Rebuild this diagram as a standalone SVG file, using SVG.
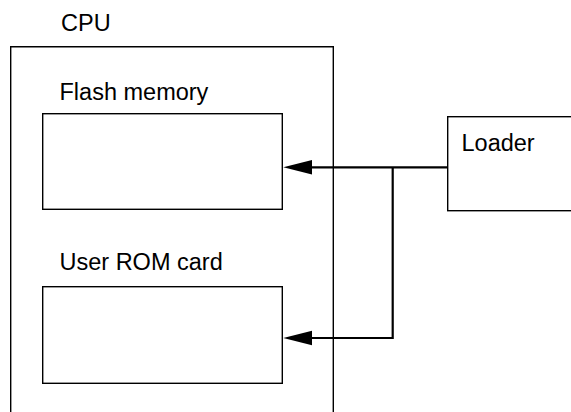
<svg xmlns="http://www.w3.org/2000/svg" width="571" height="412" viewBox="0 0 571 412">
<defs>
<style>
.box{fill:#fff;stroke:#000;stroke-width:1.4}
.lbl{font-family:"Liberation Sans",Arial,sans-serif;font-size:23.5px;fill:#000}
.conn{fill:none;stroke:#000;stroke-width:2.2}
.head{fill:#000}
</style>
</defs>
<rect width="571" height="412" fill="#fff"/>
<g id="cpu">
<path class="box" d="M10.7,413 V46.7 H333.3 V413"/>
<text class="lbl" x="61" y="31">CPU</text>
</g>
<g id="flash">
<rect class="box" x="42.7" y="113.7" width="239.6" height="95.6"/>
<text class="lbl" x="59.5" y="99.5">Flash memory</text>
</g>
<g id="userrom">
<rect class="box" x="42.7" y="286.7" width="239.6" height="96.6"/>
<text class="lbl" x="59.5" y="270">User ROM card</text>
</g>
<g id="loader">
<rect class="box" x="447.7" y="116.7" width="130" height="94"/>
<text class="lbl" x="461.5" y="151">Loader</text>
</g>
<g id="connectors">
<path class="conn" d="M447.7,167.3 H311"/>
<path class="head" d="M312,160 L283.3,167.3 L312,174.6 Z"/>
<path class="conn" d="M392.7,167.3 V338 H311"/>
<path class="head" d="M312,330.7 L283.3,338 L312,345.3 Z"/>
</g>
</svg>
